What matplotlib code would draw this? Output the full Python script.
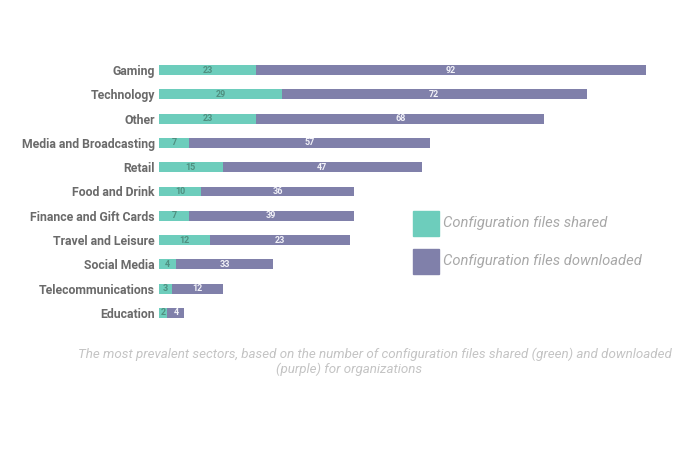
import matplotlib
matplotlib.use('Agg')
import matplotlib.pyplot as plt
from matplotlib.patches import Rectangle

sectors = ['Gaming', 'Technology', 'Other', 'Media and Broadcasting', 'Retail',
           'Food and Drink', 'Finance and Gift Cards', 'Travel and Leisure',
           'Social Media', 'Telecommunications', 'Education']
shared = [23, 29, 23, 7, 15, 10, 7, 12, 4, 3, 2]
downloaded = [92, 72, 68, 57, 47, 36, 39, 33, 23, 12, 4]
# printed labels as they appear on the original (two are swapped there)
shared_labels = ['23', '29', '23', '7', '15', '10', '7', '12', '4', '3', '2']
downloaded_labels = ['92', '72', '68', '57', '47', '36', '39', '23', '33', '12', '4']

GREEN = '#6dcdbc'
PURPLE = '#8080aa'
W, H = 700, 450

plt.rcParams['font.family'] = ['Roboto', 'DejaVu Sans']
fig = plt.figure(figsize=(7, 4.5), dpi=100)
ax = fig.add_axes([159 / W, 1 - 325 / H, 521 / W, 267 / H])

y = list(range(len(sectors)))
ax.barh(y, shared, height=0.41, color=GREEN, edgecolor='none')
ax.barh(y, downloaded, left=shared, height=0.41, color=PURPLE, edgecolor='none')

for i in y:
    ax.text(shared[i] / 2, i, shared_labels[i], ha='center', va='center',
            fontsize=6.5, color='#4f8f80', fontweight='bold')
    ax.text(shared[i] + downloaded[i] / 2, i, downloaded_labels[i], ha='center',
            va='center', fontsize=6.5, color='#f2f2f8', fontweight='bold')

ax.set_xlim(0, 521 / 4.235)
ax.set_ylim(len(sectors) - 0.5, -0.5)
ax.set_yticks(y)
ax.set_yticklabels(sectors, fontsize=8.8, color='#6a6a6a', fontweight='bold')
ax.tick_params(axis='y', length=0, pad=3)
ax.set_xticks([])
for s in ax.spines.values():
    s.set_visible(False)

# legend
for (y0, c, lab) in [(211, GREEN, 'Configuration files shared'),
                     (249, PURPLE, 'Configuration files downloaded')]:
    fig.patches.append(Rectangle((413 / W, 1 - (y0 + 25) / H), 26 / W, 25 / H,
                                 transform=fig.transFigure, color=c))
    fig.text(443 / W, 1 - (y0 + 12) / H, lab, fontsize=10.6, style='italic',
             color='#a8a8a8', va='center', ha='left')

fig.text(375 / W, 1 - 354 / H,
         'The most prevalent sectors, based on the number of configuration files shared (green) and downloaded',
         fontsize=9.6, style='italic', color='#c4c4c4', ha='center', va='center')
fig.text(349 / W, 1 - 369 / H, '(purple) for organizations',
         fontsize=9.6, style='italic', color='#c4c4c4', ha='center', va='center')

fig.savefig('out.png', dpi=100)
